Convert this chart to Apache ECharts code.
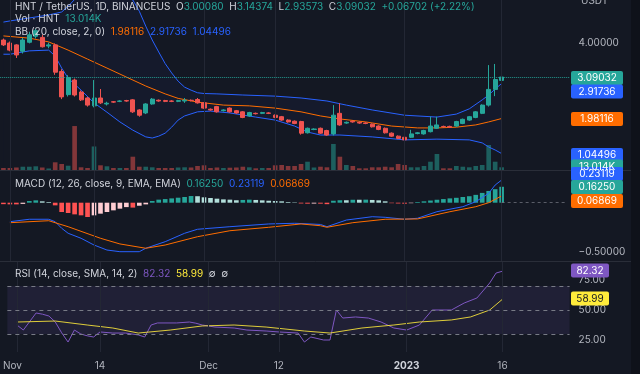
<!DOCTYPE html>
<html><head><meta charset="utf-8">
<script src="https://cdn.jsdelivr.net/npm/echarts@6/dist/echarts.min.js"></script>
<style>html,body{margin:0;padding:0;background:#141823;}#c{width:640px;height:374px;}</style>
</head><body><div id="c"></div><script>
// ---------- DATA ----------
// categories: daily, index 0 = 2022-10-31
const startDay = Date.UTC(2022, 9, 31);
const categoryCount = 88;
const categories = [];
for (let i = 0; i < categoryCount; i++) categories.push(new Date(startDay + i * 86400000).toISOString().slice(0, 10));

const timeTickLabels = {'2022-11-01':'Nov','2022-11-14':'14','2022-12-01':'Dec','2022-12-12':'12','2023-01-01':'2023','2023-01-16':'16'};

// [open, close, low, high]
const ohlc = [
 [4.08,3.95,3.92,4.12],[4.00,3.81,3.78,4.04],[3.95,3.68,3.60,3.97],[3.78,4.08,3.72,4.14],[4.02,4.22,3.99,4.30],
 [4.18,4.33,4.12,4.38],[4.15,3.90,3.88,4.22],[3.92,3.95,3.86,4.01],[3.95,3.22,3.15,3.99],[3.24,2.56,2.50,3.30],
 [2.62,3.08,2.57,3.14],[3.01,2.61,2.57,3.05],[2.69,2.48,2.45,2.73],[2.53,2.34,2.30,2.56],[2.32,2.53,2.28,3.01],
 [2.53,2.40,2.37,2.77],[2.37,2.39,2.33,2.43],[2.43,2.42,2.40,2.45],[2.44,2.45,2.42,2.47],[2.46,2.45,2.43,2.48],
 [2.48,2.16,2.13,2.50],[2.21,2.07,2.03,2.23],[2.13,2.37,2.10,2.39],[2.37,2.50,2.35,2.53],[2.47,2.45,2.43,2.49],
 [2.46,2.44,2.42,2.48],[2.45,2.44,2.42,2.47],[2.44,2.46,2.42,2.48],[2.45,2.47,2.40,2.53],[2.47,2.46,2.44,2.49],
 [2.49,2.40,2.38,2.53],[2.40,2.26,2.24,2.42],[2.23,2.21,2.19,2.25],[2.30,2.16,2.14,2.32],[2.19,2.21,2.17,2.23],
 [2.26,2.16,2.14,2.28],[2.19,2.13,2.11,2.21],[2.16,2.01,1.99,2.18],[2.05,2.14,2.03,2.16],[2.12,2.11,2.09,2.14],
 [2.12,2.14,2.10,2.16],[2.13,2.12,2.10,2.15],[2.07,2.01,1.99,2.09],[2.03,1.94,1.92,2.05],[1.94,1.89,1.87,1.96],
 [1.91,1.85,1.83,1.93],[1.90,1.59,1.55,1.92],[1.60,1.72,1.58,1.74],[1.69,1.70,1.67,1.72],[1.72,1.59,1.57,1.74],
 [1.66,1.54,1.52,1.68],[1.57,2.07,1.53,2.34],[2.12,1.81,1.79,2.39],[1.86,1.88,1.84,1.90],[1.91,1.89,1.87,1.93],
 [1.88,1.86,1.84,1.90],[1.86,1.85,1.83,1.88],[1.83,1.76,1.74,1.85],[1.78,1.69,1.67,1.80],[1.72,1.60,1.58,1.74],
 [1.59,1.51,1.49,1.61],[1.51,1.45,1.43,1.53],[1.48,1.41,1.39,1.50],[1.48,1.57,1.46,1.68],[1.58,1.60,1.56,1.62],
 [1.57,1.66,1.55,1.68],[1.63,1.78,1.61,2.03],[1.72,1.81,1.70,2.03],[1.77,1.76,1.74,1.79],[1.77,1.75,1.73,1.79],
 [1.78,1.90,1.76,1.92],[1.85,1.96,1.83,1.98],[1.94,2.03,1.92,2.05],[2.01,2.16,1.99,2.18],[2.12,2.34,2.10,2.36],
 [2.34,2.76,2.30,3.41],[2.76,3.0233,2.58,3.44],[3.00080,3.09032,2.93573,3.14374]
];

// volume in thousands
const volumeK = [
 9.6,9.6,12,15.8,15.8,17.8,12,7.2,37,28.8,
 20.6,211,13,9.6,113,22.6,17.8,9.6,9.6,9.6,
 63.8,15.8,15.8,13,9.6,9.6,9.6,12,13,12,
 19.2,22.6,9.6,12,9.6,11,12,15.8,13,8.2,
 9.6,9.6,22.6,24,19.2,19.2,28.8,39.8,12,15.8,
 13,125,63.8,24,19.2,8.2,8.2,13,13,15.8,
 13,28.8,24,13,13,19.2,39.8,76.8,8.2,8.2,
 19.2,15.8,13,19.2,24,120,39.8,13.014
];

// Bollinger bands [categoryIndex, value]
const bbUpper = [[0,4.56],[1,4.59],[4,4.67],[7,4.75],[9,4.83],[10,4.98],[12,5.35],[15,5.5],[18,5.4],[20,5.15],[21,4.85],[22,4.45],[23,4.08],[24,3.76],[25,3.45],[26,3.2],[27,2.98],[28,2.82],[29,2.74],[30,2.67],[31,2.65],[33,2.64],[37,2.61],[42,2.58],[46,2.53],[50,2.45],[53,2.34],[57,2.21],[62,2.07],[67,2.02],[70,2.10],[72,2.24],[74,2.48],[75,2.61],[76,2.77],[77,2.91736]];
const bbBasis = [[0,4.19],[4,4.13],[7,4.03],[10,3.81],[13,3.57],[16,3.33],[19,3.09],[22,2.85],[25,2.64],[27,2.52],[30,2.42],[34,2.34],[38,2.32],[42,2.26],[46,2.16],[49,2.05],[52,1.97],[56,1.89],[60,1.78],[64,1.73],[67,1.73],[70,1.75],[73,1.81],[75,1.89],[77,1.98116]];
const bbLower = [[0,3.70],[1,3.70],[4,3.79],[7,3.81],[8,3.65],[9,3.33],[10,3.06],[12,2.74],[14,2.40],[16,2.15],[18,1.89],[20,1.67],[22,1.49],[23,1.46],[24,1.51],[25,1.59],[26,1.75],[27,1.94],[28,2.05],[30,2.16],[32,2.18],[35,2.13],[39,2.02],[42,1.94],[45,1.78],[47,1.62],[49,1.54],[52,1.54],[57,1.49],[62,1.41],[67,1.43],[72,1.41],[74,1.33],[75,1.22],[76,1.14],[77,1.04496]];

// MACD
const macdHist = [
 -0.015,-0.017,-0.017,-0.012,0.017,0.024,0.014,0.007,-0.027,-0.095,
 -0.105,-0.119,-0.129,-0.146,-0.129,-0.112,-0.095,-0.078,-0.061,-0.045,
 -0.05,-0.031,-0.017,0.017,0.031,0.037,0.044,0.051,0.058,0.068,
 0.066,0.055,0.048,0.041,0.034,0.031,0.025,0.028,0.031,0.028,
 0.024,0.02,0.017,0.014,0.007,0.004,-0.008,-0.01,-0.009,-0.01,
 -0.015,0.02,0.025,0.025,0.03,0.03,0.031,0.028,0.024,0.014,
 -0.005,-0.008,-0.01,-0.005,0.007,0.014,0.022,0.03,0.037,0.044,
 0.05,0.058,0.066,0.08,0.1,0.12,0.138,0.1625
];
const macdLine = [[1,-0.194],[4,-0.169],[7,-0.169],[8,-0.194],[9,-0.261],[10,-0.312],[12,-0.363],[14,-0.432],[16,-0.483],[18,-0.5],[21,-0.5],[22,-0.465],[25,-0.398],[28,-0.312],[30,-0.271],[35,-0.245],[41,-0.217],[45,-0.21],[49,-0.222],[50,-0.245],[53,-0.177],[57,-0.143],[59,-0.149],[62,-0.169],[64,-0.159],[67,-0.092],[71,-0.041],[73,0.01],[75,0.096],[76,0.18],[77,0.23119]];
const signalLine = [[1,-0.204],[7,-0.184],[10,-0.245],[15,-0.363],[18,-0.421],[22,-0.465],[25,-0.432],[30,-0.347],[35,-0.286],[41,-0.251],[46,-0.217],[49,-0.235],[50,-0.251],[54,-0.204],[59,-0.169],[64,-0.166],[69,-0.092],[73,-0.041],[75,0.0],[77,0.06869]];

// RSI
const rsiLine = [[1,37.5],[2,33.3],[4,47.5],[5,46.5],[6,45],[7,40],[8,31],[9,23.3],[10,33.3],[11,30],[12,28.5],[13,27.5],[14,31.7],[16,30.8],[18,30.8],[20,29.2],[21,27.5],[22,37.5],[23,39.2],[26,39.2],[28,40],[29,39],[30,37.5],[32,35.8],[35,35],[37,33.3],[40,32.5],[42,31.7],[45,30.8],[46,23.3],[47,27.5],[49,25],[50,25],[51,50],[52,43.3],[54,44.2],[56,43.3],[58,40],[60,35],[62,33.3],[64,37.5],[66,50],[69,50],[71,55.8],[73,60],[75,72.5],[76,80.8],[77,82.32]];
const rsiMA = [[1,40],[7,40.8],[12,37.5],[16,35],[20,30.8],[25,33.3],[30,36.7],[35,37.5],[40,35.8],[46,32.5],[50,30.8],[55,35],[60,37.5],[64,40],[69,41.7],[72,44.2],[75,50],[77,58.99]];
const rsiLevels = [70, 50, 30];

// axis tick values
const priceTicks = [4];
const macdTicks = [-0.5];
const rsiTicks = [25, 50, 75];

// ---------- STYLE ----------
const BG = '#141823';
const FONT = 'Inter, "Noto Sans", sans-serif';
const FS = 10;
const UP = '#26a69a', DOWN = '#ef5350';
const BLUE = '#2962ff', ORANGE = '#ff6d00', PURPLE = '#7e57c2', YELLOW = '#ffeb3b';
const TXT = '#d1d4dc', AXT = '#b2b5be', GRIDC = '#232734';

const last = a => a[a.length - 1];
const lastBar = ohlc[ohlc.length - 1];
const prevClose = ohlc[ohlc.length - 2][1];
const chg = lastBar[1] - prevClose;
const pct = chg / prevClose * 100;

const gridLeft = 0.2, gridW = 6.47 * categoryCount;
const vGridLines = Object.keys(timeTickLabels).map(d => ({xAxis: d, lineStyle: {color: GRIDC, width: 1, type: 'solid'}}));
const baseML = {symbol: ['none', 'none'], silent: true, animation: false, label: {show: false}};

const histColors = macdHist.map((v, i) => {
  const p = i > 0 ? macdHist[i - 1] : v;
  if (v >= 0) return p < v ? '#26a69a' : '#b2dfdb';
  return p < v ? '#ffcdd2' : '#ff5252';
});

const chart = echarts.init(document.getElementById('c'));
const xAx = (gi, show) => ({
  type: 'category', gridIndex: gi, data: categories, boundaryGap: true,
  axisLine: {show: false}, axisTick: {show: false}, splitLine: {show: false},
  axisLabel: show ? {
    show: true, interval: (i, v) => timeTickLabels[v] !== undefined,
    formatter: v => v === '2023-01-01' ? '{b|2023}' : (v === '2022-11-01' ? '{n|Nov}{s| }' : timeTickLabels[v]),
    color: AXT, fontSize: FS, fontFamily: FONT, margin: 9,
    rich: {b: {fontWeight: 'bold', color: TXT, fontSize: FS, fontFamily: FONT},
           n: {color: AXT, fontSize: FS, fontFamily: FONT},
           s: {width: 9, fontSize: FS}}
  } : {show: false}
});
const yAx = (gi, min, max, ticks, fmt) => ({
  type: 'value', gridIndex: gi, position: 'right', min, max, scale: true,
  axisLine: {show: false}, axisTick: {show: false}, splitLine: {show: false},
  axisLabel: ticks ? {show: true, customValues: ticks, formatter: fmt, color: AXT, fontSize: FS, fontFamily: FONT, margin: 9} : {show: false},
  show: !!ticks
});

const option = {
  backgroundColor: BG,
  animation: false,
  grid: [
    {left: gridLeft, top: 0, width: gridW, height: 170},
    {left: gridLeft, top: 171, width: gridW, height: 90},
    {left: gridLeft, top: 262, width: gridW, height: 90}
  ],
  xAxis: [xAx(0, false), xAx(0, false), xAx(1, false), xAx(2, true)],
  yAxis: [
    yAx(0, 0.605, 5.15, priceTicks, v => v.toFixed(5)),
    {type: 'value', gridIndex: 0, min: 0, max: 816, show: false, splitLine: {show: false}},
    yAx(1, -0.595, 0.3235, macdTicks, v => (v < 0 ? '\u2212' : '') + Math.abs(v).toFixed(5)),
    yAx(2, 15, 90, rsiTicks, v => v.toFixed(2))
  ],
  series: [
    {type: 'line', xAxisIndex: 0, yAxisIndex: 0, data: bbUpper, symbol: 'none', silent: true, z: 1,
     lineStyle: {width: 0}, areaStyle: {color: 'rgba(41,98,255,0.06)', origin: 'start'}},
    {type: 'line', xAxisIndex: 0, yAxisIndex: 0, data: bbLower, symbol: 'none', silent: true, z: 1,
     lineStyle: {width: 0}, areaStyle: {color: BG, opacity: 1, origin: 'start'}},
    {type: 'bar', xAxisIndex: 1, yAxisIndex: 1, barWidth: '72%', z: 2,
     data: volumeK.map((v, i) => ({value: v, itemStyle: {color: ohlc[i][1] >= ohlc[i][0] ? 'rgba(38,166,154,0.5)' : 'rgba(239,83,80,0.5)'}})),
     markLine: Object.assign({}, baseML, {data: vGridLines})},
    {type: 'line', xAxisIndex: 0, yAxisIndex: 0, data: bbUpper, symbol: 'none', z: 3, lineStyle: {color: BLUE, width: 1}},
    {type: 'line', xAxisIndex: 0, yAxisIndex: 0, data: bbLower, symbol: 'none', z: 3, lineStyle: {color: BLUE, width: 1}},
    {type: 'line', xAxisIndex: 0, yAxisIndex: 0, data: bbBasis, symbol: 'none', z: 3, lineStyle: {color: ORANGE, width: 1}},
    {type: 'candlestick', xAxisIndex: 0, yAxisIndex: 0, data: ohlc, barWidth: '70%', z: 4,
     itemStyle: {color: UP, color0: DOWN, borderColor: UP, borderColor0: DOWN, borderWidth: 1},
     markLine: Object.assign({}, baseML, {data: [{yAxis: lastBar[1], lineStyle: {color: UP, type: 'dotted', width: 1, opacity: 0.9}}]})},
    {type: 'bar', xAxisIndex: 2, yAxisIndex: 2, barWidth: '72%', z: 2,
     data: macdHist.map((v, i) => ({value: v, itemStyle: {color: histColors[i]}})),
     markLine: Object.assign({}, baseML, {data: vGridLines.concat([[{coord: [macdHist.length - 1, 0], lineStyle: {color: '#787b86', type: [3, 3], width: 1, opacity: 0.7}}, {coord: [categoryCount - 1, 0]}]])})},
    {type: 'line', xAxisIndex: 2, yAxisIndex: 2, data: macdLine, symbol: 'none', z: 3, lineStyle: {color: BLUE, width: 1}},
    {type: 'line', xAxisIndex: 2, yAxisIndex: 2, data: signalLine, symbol: 'none', z: 3, lineStyle: {color: ORANGE, width: 1}},
    {type: 'line', xAxisIndex: 3, yAxisIndex: 3, data: rsiLine, symbol: 'none', z: 3, lineStyle: {color: PURPLE, width: 1},
     markArea: {silent: true, itemStyle: {color: 'rgba(126,87,194,0.12)'}, data: [[{yAxis: rsiLevels[0]}, {yAxis: rsiLevels[2]}]]},
     markLine: Object.assign({}, baseML, {data: vGridLines.concat(rsiLevels.map(l => ({yAxis: l, lineStyle: {color: '#787b86', type: [4, 4], width: 1}})))})},
    {type: 'line', xAxisIndex: 3, yAxisIndex: 3, data: rsiMA, symbol: 'none', z: 3, lineStyle: {color: YELLOW, width: 1, opacity: 0.85}}
  ]
};

// legends
const f5 = v => v.toFixed(5);
const rs = c => ({fill: c, fontSize: FS, fontFamily: FONT});
const rich = {t: rs(TXT), g: rs(UP), b: rs(BLUE), o: rs(ORANGE), p: rs(PURPLE), y: rs(YELLOW)};
const legend = (y, text) => ({type: 'text', left: 15, top: y - 6, z: 100, silent: true,
  style: {text, rich, fill: TXT, fontSize: FS, fontFamily: FONT}});
const volTxt = last(volumeK).toFixed(3) + 'K';
const tags = [
  {t: f5(lastBar[1]), c: UP, y: 78},
  {t: f5(last(bbUpper)[1]), c: BLUE, y: 91.5},
  {t: f5(last(bbBasis)[1]), c: ORANGE, y: 119},
  {t: f5(last(bbLower)[1]), c: BLUE, y: 155},
  {t: volTxt, c: UP, y: 166.5},
  {t: f5(last(macdLine)[1]), c: BLUE, y: 174},
  {t: f5(last(macdHist)), c: UP, y: 187},
  {t: f5(last(signalLine)[1]), c: ORANGE, y: 201},
  {t: last(rsiLine)[1].toFixed(2), c: PURPLE, y: 270.5, w: 38},
  {t: last(rsiMA)[1].toFixed(2), c: YELLOW, y: 298.5, w: 38, fc: '#131722'}
];
option.graphic = [
  {type: 'rect', z: 0, silent: true, shape: {x: 631, y: 0, width: 9, height: 374}, style: {fill: '#0f121a'}},
  {type: 'line', z: 50, silent: true, shape: {x1: 0, y1: 170.5, x2: 631, y2: 170.5}, style: {stroke: '#2a2e39', lineWidth: 1}},
  {type: 'line', z: 50, silent: true, shape: {x1: 0, y1: 261.5, x2: 631, y2: 261.5}, style: {stroke: '#2a2e39', lineWidth: 1}},
  legend(7.5, `{t|HNT / TetherUS, 1D, BINANCEUS}  {t|O}{g|${f5(lastBar[0])}}  {t|H}{g|${f5(lastBar[3])}}  {t|L}{g|${f5(lastBar[2])}}  {t|C}{g|${f5(lastBar[1])}}  {g|+${chg.toFixed(5)} (+${pct.toFixed(2)}%)}`),
  legend(20, `{t|Vol \u00b7 HNT}  {g|${volTxt}}`),
  legend(33, `{t|BB (20, close, 2, 0)}  {o|${f5(last(bbBasis)[1])}}  {b|${f5(last(bbUpper)[1])}}  {b|${f5(last(bbLower)[1])}}`),
  legend(184.5, `{t|MACD (12, 26, close, 9, EMA, EMA)}  {g|${f5(last(macdHist))}}  {b|${f5(last(macdLine)[1])}}  {o|${f5(last(signalLine)[1])}}`),
  legend(275, `{t|RSI (14, close, SMA, 14, 2)}  {p|${last(rsiLine)[1].toFixed(2)}}  {y|${last(rsiMA)[1].toFixed(2)}}  {t|\u2205  \u2205}`),
  {type: 'text', z: 100, silent: true, left: 581, top: -4, style: {text: 'USDT', fill: AXT, fontSize: FS, fontFamily: FONT}}
];
tags.forEach(tg => {
  const w = tg.w || 52;
  option.graphic.push({type: 'rect', z: 90, silent: true, shape: {x: 571, y: tg.y - 7, width: w, height: 14, r: 2}, style: {fill: tg.c}});
  option.graphic.push({type: 'text', z: 91, silent: true, x: 571 + w / 2, y: tg.y,
    style: {text: tg.t, fill: tg.fc || '#ffffff', fontSize: FS, fontFamily: FONT, align: 'center', verticalAlign: 'middle'}});
});

chart.setOption(option);
</script></body></html>
